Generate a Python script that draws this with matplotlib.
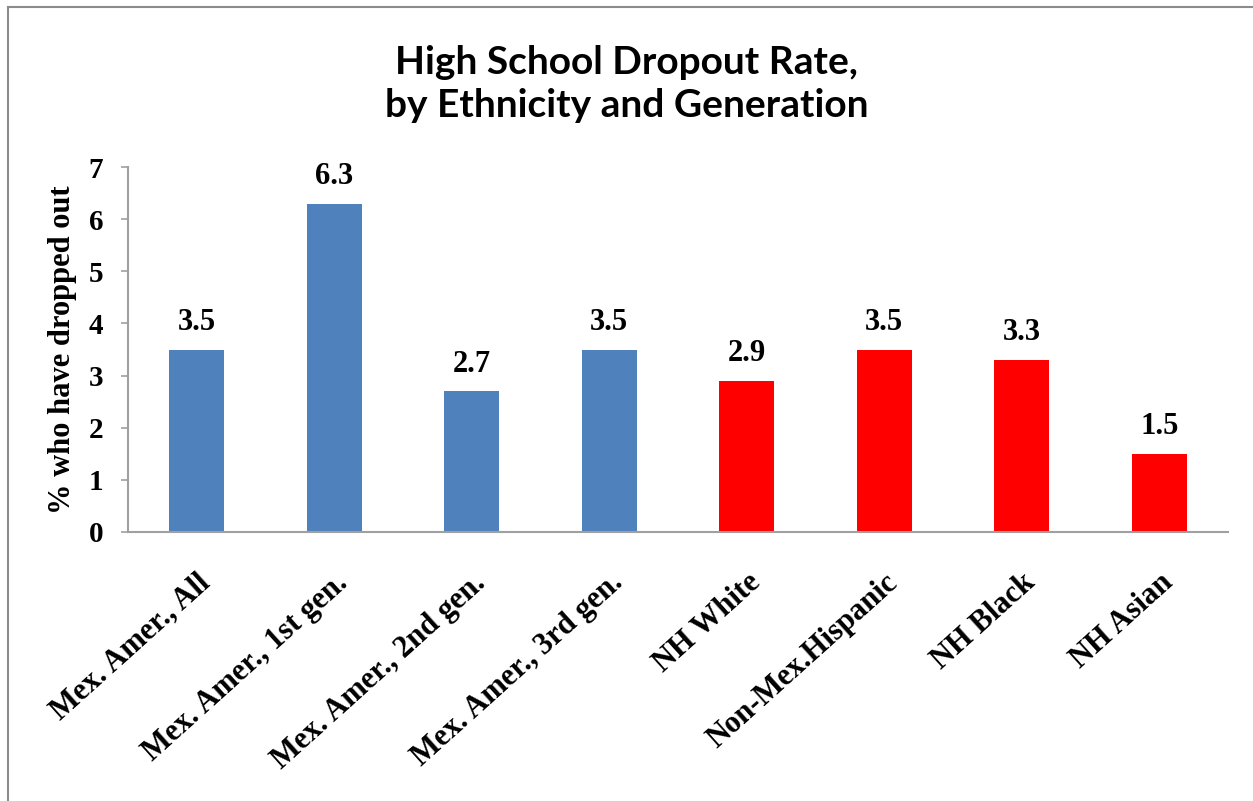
import matplotlib.pyplot as plt
import matplotlib.transforms as mtransforms
from matplotlib.lines import Line2D

categories = ["Mex. Amer., All", "Mex. Amer., 1st gen.", "Mex. Amer., 2nd gen.",
              "Mex. Amer., 3rd gen.", "NH White", "Non-Mex.Hispanic",
              "NH Black", "NH Asian"]
rates = [3.5, 6.3, 2.7, 3.5, 2.9, 3.5, 3.3, 1.5]
colors = ["#4F81BD"] * 4 + ["#FF0000"] * 4

serif = ["Liberation Serif", "DejaVu Serif"]

fig = plt.figure(figsize=(12.53, 8.01), dpi=100)
ax = fig.add_axes([128 / 1253, 1 - 532 / 801, 1100 / 1253, 365 / 801])

x = range(len(categories))
bars = ax.bar(x, rates, width=0.4, color=colors, zorder=2)
for b, v in zip(bars, rates):
    ax.annotate(f"{v:.1f}", (b.get_x() + b.get_width() / 2, v),
                xytext=(0, 9), textcoords="offset points",
                ha="center", va="bottom", fontsize=22, fontweight="bold",
                family=serif)

ax.set_xlim(-0.5, len(categories) - 0.5)
ax.set_ylim(0, 7)
ax.set_yticks(range(8))
ax.set_yticklabels([str(i) for i in range(8)], fontsize=21, fontweight="bold",
                   family=serif)
ax.set_xticks(list(x))
ax.set_xticklabels(categories, rotation=42, ha="right", va="top",
                   rotation_mode="anchor", fontsize=22, fontweight="bold",
                   family=serif)
shift = mtransforms.ScaledTranslation(10 / 72, 0, fig.dpi_scale_trans)
for lbl in ax.get_xticklabels():
    lbl.set_transform(lbl.get_transform() + shift)
ax.tick_params(axis="x", length=0, pad=26)
ax.tick_params(axis="y", length=5, width=1.2, color="#a0a0a0", pad=13)

for side in ("top", "right"):
    ax.spines[side].set_visible(False)
for side in ("left", "bottom"):
    ax.spines[side].set_color("#a0a0a0")
    ax.spines[side].set_linewidth(1.5)

ax.set_ylabel("% who have dropped out", fontsize=22, fontweight="bold",
              family=serif, labelpad=8)

fig.text(0.5, 1 - 84 / 801, "High School Dropout Rate,\nby Ethnicity and Generation",
         ha="center", va="center", fontsize=28, fontweight="bold",
         family=["Lato", "DejaVu Sans"], linespacing=1.3)

# chart frame: only the left and top edges fall inside the image
frame = dict(transform=fig.transFigure, color="#8c8c8c", linewidth=1.5)
fig.lines.append(Line2D([8 / 1253, 8 / 1253], [0, 1 - 7 / 801], **frame))
fig.lines.append(Line2D([8 / 1253, 1], [1 - 7 / 801, 1 - 7 / 801], **frame))

fig.savefig("out.png", dpi=100)
